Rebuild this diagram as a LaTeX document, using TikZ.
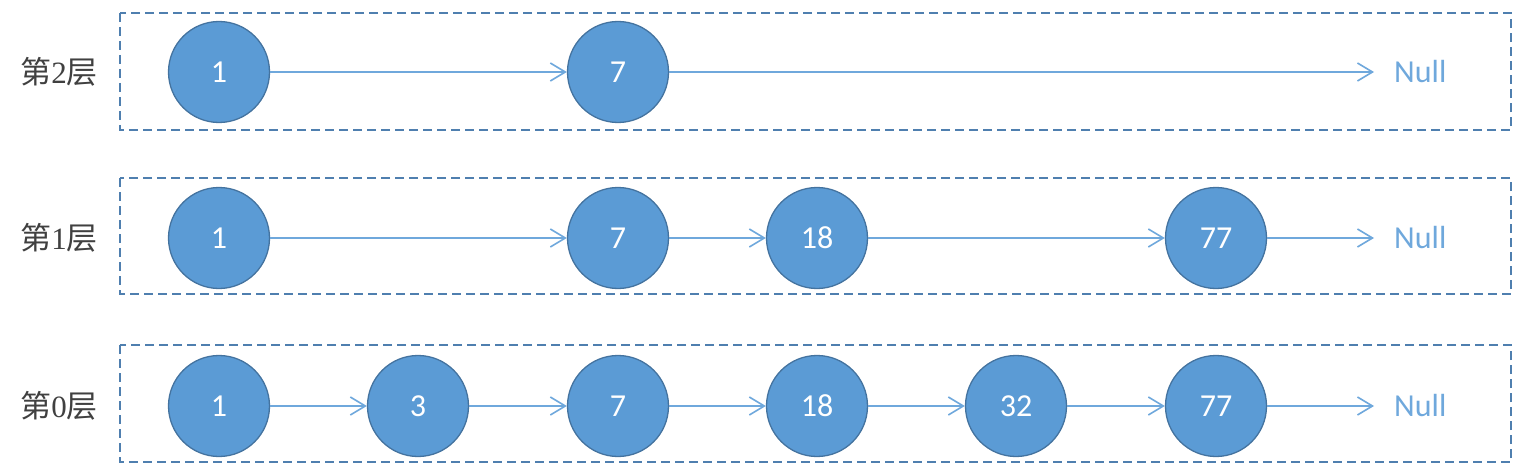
\documentclass[tikz,border=0pt]{standalone}
\usepackage{fontspec}
\setmainfont{Carlito}
\newfontfamily\cjk{Noto Sans CJK SC}
\newfontfamily\serifdigits{Liberation Serif}
\usetikzlibrary{arrows.meta}
\definecolor{nodefill}{HTML}{5B9BD5}
\definecolor{nodeedge}{HTML}{44739F}
\definecolor{arrowcol}{HTML}{6FA8DC}
\definecolor{boxcol}{HTML}{4F7FAF}
\definecolor{labelcol}{HTML}{404040}
\tikzset{
  listnode/.style={circle, fill=nodefill, draw=nodeedge, line width=1.3pt, minimum size=101pt, inner sep=0pt, text=white, font=\fontsize{32}{34}\selectfont},
  link/.style={draw=arrowcol, line width=1.6pt, -{Straight Barb[length=15pt,width=18pt,line width=1.6pt]}},
  levelbox/.style={draw=boxcol, line width=1.6pt, dash pattern=on 9pt off 5pt},
  nulltext/.style={text=arrowcol, font=\fontsize{32}{34}\selectfont, anchor=west, inner sep=0pt},
  levellabel/.style={text=labelcol, font=\fontsize{31}{34}\selectfont, inner sep=0pt}
}
\begin{document}
\begin{tikzpicture}[x=1pt,y=-1pt]
\useasboundingbox (0,0) rectangle (1528,476);
% boxes
\draw[levelbox] (120,13) rectangle (1511,130);
\draw[levelbox] (120,178) rectangle (1511,294);
\draw[levelbox] (120,345) rectangle (1511,462);
% labels
\node[levellabel] (l2) at (59,72) {{\cjk 第}{\serifdigits 2}{\cjk 层}};
\node[levellabel] (l1) at (59,238) {{\cjk 第}{\serifdigits 1}{\cjk 层}};
\node[levellabel] (l0) at (59,406) {{\cjk 第}{\serifdigits 0}{\cjk 层}};
% level 2
\node[listnode] (a1) at (219,72) {1};
\node[listnode] (a7) at (618,72) {7};
\node[nulltext] (an) at (1394,72) {Null};
% level 1
\node[listnode] (b1) at (219,238) {1};
\node[listnode] (b7) at (618,238) {7};
\node[listnode] (b18) at (817,238) {18};
\node[listnode] (b77) at (1216,238) {77};
\node[nulltext] (bn) at (1394,238) {Null};
% level 0
\node[listnode] (c1) at (219,406) {1};
\node[listnode] (c3) at (418,406) {3};
\node[listnode] (c7) at (618,406) {7};
\node[listnode] (c18) at (817,406) {18};
\node[listnode] (c32) at (1016,406) {32};
\node[listnode] (c77) at (1216,406) {77};
\node[nulltext] (cn) at (1394,406) {Null};
% links
\draw[link] (a1) -- (a7);
\draw[link] (a7) -- ([xshift=-20pt]an.west);
\draw[link] (b1) -- (b7);
\draw[link] (b7) -- (b18);
\draw[link] (b18) -- (b77);
\draw[link] (b77) -- ([xshift=-20pt]bn.west);
\draw[link] (c1) -- (c3);
\draw[link] (c3) -- (c7);
\draw[link] (c7) -- (c18);
\draw[link] (c18) -- (c32);
\draw[link] (c32) -- (c77);
\draw[link] (c77) -- ([xshift=-20pt]cn.west);
\end{tikzpicture}
\end{document}
